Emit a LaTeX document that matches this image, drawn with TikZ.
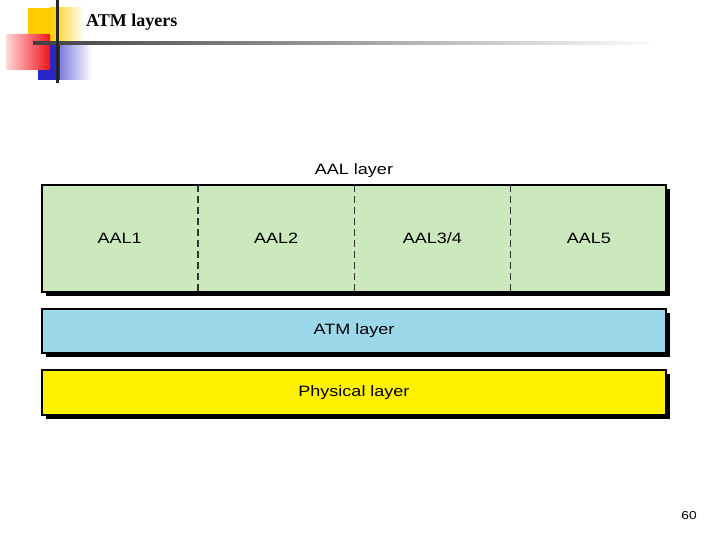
\documentclass[tikz,border=0pt]{standalone}
\usepackage{fontspec}
\setmainfont{Liberation Sans}
\newfontfamily\widefont[FakeStretch=1.2]{Liberation Sans}
\newfontfamily\titlefont{Liberation Serif}
\usetikzlibrary{positioning,shadows}
\definecolor{aalgreen}{RGB}{204,233,190}
\definecolor{atmblue}{RGB}{155,217,234}
\definecolor{decoyellow}{RGB}{255,204,0}
\definecolor{decored}{RGB}{240,20,30}
\definecolor{decoblue}{RGB}{40,40,200}
\begin{document}
\begin{tikzpicture}[x=1pt, y=-1pt,
    layerbox/.style={draw, line width=1.1pt, minimum width=624pt, inner sep=0pt,
        drop shadow={shadow xshift=4pt, shadow yshift=-4pt, fill=black, opacity=1}},
    cell/.style={minimum width=156pt, minimum height=107pt, inner sep=0pt},
    divider/.style={dash pattern=on 7pt off 4pt, line width=1.3pt, black!80},
    label/.style={font=\widefont\fontsize{15}{17}\selectfont}]
    \useasboundingbox (0, 0) rectangle (720, 540);
    \fill[white] (0, 0) rectangle (720, 540);

    \fill[decoyellow] (28, 8) rectangle (50, 43);
    \shade[left color=decoyellow, right color=white] (50, 8) rectangle (84, 43);
    \shade[left color=decoblue, right color=white] (38, 45) rectangle (92, 80);
    \fill[decoblue] (38, 45) rectangle (60, 80);
    \shade[left color=red!15, right color=decored] (6, 35) rectangle (50, 70);
    \shade[left color=black!75, right color=white] (33, 42) rectangle (660, 44.5);
    \fill[black!85] (55.5, 0) rectangle (58.5, 83);
    \node (title) [anchor=west, inner sep=0pt] at (86, 22) {\titlefont\bfseries\fontsize{18}{20}\selectfont ATM layers};

    \node (aal) [layerbox, fill=aalgreen, minimum height=107pt] at (354, 238.5) {};
    \node (aal1) [cell, label, anchor=west] at (aal.west) {AAL1};
    \node (aal2) [cell, label, right=0pt of aal1] {AAL2};
    \node (aal34) [cell, label, right=0pt of aal2] {AAL3/4};
    \node (aal5) [cell, label, right=0pt of aal34] {AAL5};
    \draw[divider] (aal1.north east) -- (aal1.south east);
    \draw[divider] (aal2.north east) -- (aal2.south east);
    \draw[divider] (aal34.north east) -- (aal34.south east);
    \node (aallabel) [label, above=3pt of aal] {AAL layer};

    \node (atm) [layerbox, label, fill=atmblue, minimum height=44pt] at (354, 331) {ATM layer};
    \node (phy) [layerbox, label, fill=yellow, minimum height=45pt] at (354, 392.5) {Physical layer};

    \node (page) [font=\widefont\fontsize{11.5}{13}\selectfont] at (689, 516) {60};
\end{tikzpicture}
\end{document}
